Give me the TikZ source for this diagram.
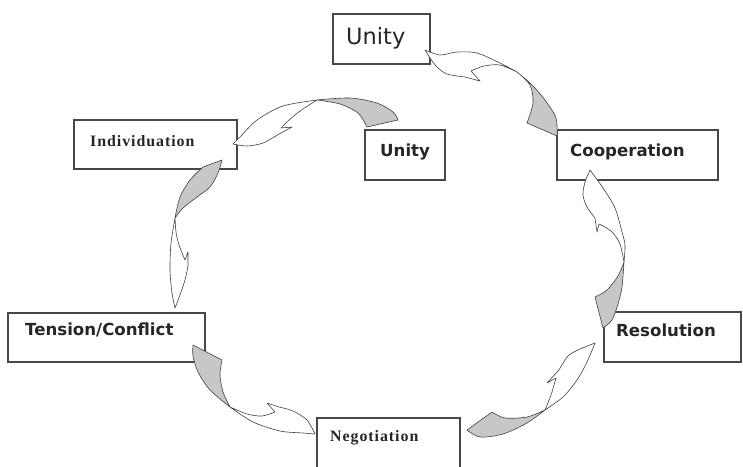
\documentclass[tikz,border=0pt]{standalone}
\usepackage{fontspec}
\setmainfont{DejaVu Sans}
\newfontfamily\serifbold[LetterSpace=6]{Liberation Serif}
\begin{document}
\begin{tikzpicture}[x=1pt,y=-1pt,
  box/.style={draw=black!72, line width=1.1pt, inner sep=0pt, fill=white},
  lbl/.style={font=\bfseries\fontsize{16.6}{18}\selectfont, inner sep=0pt, anchor=west, text=black!85},
  slbl/.style={font=\serifbold\bfseries\fontsize{15.9}{18}\selectfont, inner sep=0pt, anchor=west, text=black!85},
  arrowline/.style={draw=black!75, line width=0.6pt, line join=round},
  tailfill/.style={arrowline, fill=black!22},
  headfill/.style={arrowline, fill=white}]
\useasboundingbox (0,0) rectangle (743,466);

% boxes
\node[box, minimum width=97pt, minimum height=50pt] (unityA) at (381.5,39) {};
\node[box, minimum width=161pt, minimum height=50pt] (coop) at (637.5,155) {};
\node[box, minimum width=80pt, minimum height=50pt] (unityB) at (405,155) {};
\node[box, minimum width=163pt, minimum height=49pt] (indiv) at (155.5,144.5) {};
\node[box, minimum width=197pt, minimum height=49pt] (tension) at (106.5,337.5) {};
\node[box, minimum width=137pt, minimum height=50pt] (resol) at (672.5,337) {};
\node[box, minimum width=143pt, minimum height=52pt] (negot) at (388.5,444) {};

% labels
\node[inner sep=0pt, anchor=west, font=\fontsize{22.5}{24}\selectfont, text=black!85] (tUnityA) at (346,38) {Unity};
\node[lbl] (tUnityB) at (380,152) {Unity};
\node[lbl] (tCoop) at (570,152) {Cooperation};
\node[slbl] (tIndiv) at (90,141) {Individuation};
\node[lbl] (tTension) at (25,330) {Tension/Conflict};
\node[lbl] (tResol) at (616,330) {Resolution};
\node[slbl] (tNegot) at (330,438) {Negotiation};

% arrow 1: Cooperation -> Unity (top)
\path[tailfill] plot[smooth] coordinates {(557,136) (556,118) (545,100) (532,85) (517,72)}
  -- plot[smooth] coordinates {(517,72) (530,85) (533,103) (527,123)} -- cycle;
\path[headfill] plot[smooth] coordinates {(517,72) (500,63) (477,53) (457,52) (440,55) (425,50)}
  -- plot[smooth] coordinates {(425,50) (430,58) (437,67) (447,74) (465,77)}
  -- (480,81) -- (471,71)
  -- plot[smooth] coordinates {(471,71) (484,66) (500,65) (517,72)} -- cycle;

% arrow 2: Unity (small) -> Individuation
\path[tailfill] plot[smooth] coordinates {(398,120) (393,112) (377,103) (350,98) (317,100)}
  -- plot[smooth] coordinates {(317,100) (340,104) (358,113) (367,127)} -- cycle;
\path[headfill] plot[smooth] coordinates {(317,100) (283,106) (257,120) (240,137) (233,144)}
  -- plot[smooth] coordinates {(233,144) (247,146) (263,143) (279,134)}
  -- (292,127) -- (281,128)
  -- plot[smooth] coordinates {(281,128) (288,121) (300,111) (317,100)} -- cycle;

% arrow 3: Individuation -> Tension/Conflict
\path[tailfill] plot[smooth] coordinates {(203,167) (190,180) (180,197) (175,218)}
  -- plot[smooth] coordinates {(175,218) (183,208) (197,197) (210,187) (218,173) (222,160)} -- cycle;
\path[headfill] plot[smooth] coordinates {(175,218) (171,243) (170,270) (172,293) (175,308)}
  -- plot[smooth] coordinates {(175,308) (180,295) (185,280) (188,266)}
  -- (188,252) -- (185,260)
  -- plot[smooth] coordinates {(185,260) (179,245) (176,232) (175,218)} -- cycle;

% arrow 4: Tension/Conflict -> Negotiation
\path[tailfill] plot[smooth] coordinates {(193,345) (193,356) (198,372) (210,390) (230,407)}
  -- plot[smooth] coordinates {(230,407) (223,392) (220,375) (222,360)} -- cycle;
\path[headfill] plot[smooth] coordinates {(230,407) (253,422) (280,431) (303,433) (315,434)}
  -- plot[smooth] coordinates {(315,434) (307,420) (293,411) (279,407)}
  -- (267,403) -- (275,412)
  -- plot[smooth] coordinates {(275,412) (262,416) (247,414) (230,407)} -- cycle;

% arrow 5: Negotiation -> Resolution
\path[tailfill] plot[smooth] coordinates {(467,430) (480,437) (503,434) (527,423) (545,410)}
  -- plot[smooth] coordinates {(545,410) (527,417) (505,418) (492,412)} -- cycle;
\path[headfill] plot[smooth] coordinates {(545,410) (563,397) (577,380) (587,362) (595,343)}
  -- plot[smooth] coordinates {(595,343) (580,349) (568,356) (559,370)}
  -- (547,383) -- (556,378)
  -- plot[smooth] coordinates {(556,378) (551,395) (545,410)} -- cycle;

% arrow 6: Resolution -> Cooperation
\path[tailfill] plot[smooth] coordinates {(603,328) (612,320) (618,304) (622,287) (624,262)}
  -- plot[smooth] coordinates {(624,262) (618,276) (607,290) (595,297)} -- cycle;
\path[headfill] plot[smooth] coordinates {(624,262) (625,245) (622,232) (615,208) (603,188) (590,170)}
  -- plot[smooth] coordinates {(590,170) (585,182) (583,195) (587,207) (595,218)}
  -- (597,232) -- (599,224)
  -- plot[smooth] coordinates {(599,224) (605,227) (613,233) (620,244) (624,262)} -- cycle;
\end{tikzpicture}
\end{document}
